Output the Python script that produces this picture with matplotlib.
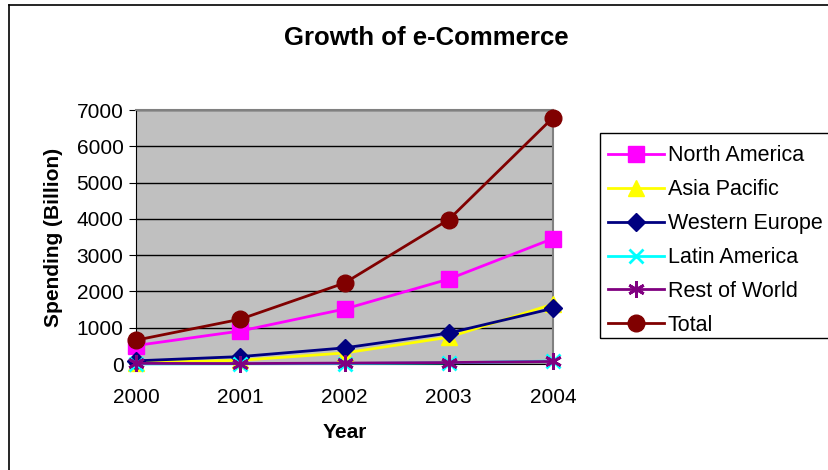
import matplotlib
matplotlib.use("Agg")
import matplotlib.pyplot as plt
from matplotlib.lines import Line2D
from matplotlib.patches import Rectangle

plt.rcParams['font.family'] = ['Liberation Sans', 'DejaVu Sans']

years = ['2000', '2001', '2002', '2003', '2004']
north_america = [509, 909, 1514, 2340, 3456]
asia_pacific = [40, 102, 304, 738, 1650]
western_europe = [87, 204, 444, 852, 1533]
latin_america = [3, 7, 13, 31, 82]
rest_of_world = [17, 12, 25, 40, 70]
total = [657, 1234, 2231, 3979, 6790]

series = [
    ("North America", north_america, "#FF00FF", "s", 11),
    ("Asia Pacific", asia_pacific, "#FFFF00", "^", 11),
    ("Western Europe", western_europe, "#000080", "D", 9),
    ("Latin America", latin_america, "#00FFFF", "x", 10),
    ("Rest of World", rest_of_world, "#800080", (6, 2, 0), 12),
    ("Total", total, "#800000", "o", 12),
]

W, H = 829, 470
fig = plt.figure(figsize=(W / 100, H / 100), dpi=100)
ax = fig.add_axes([136 / W, (H - 364) / H, 417 / W, 254 / H])
ax.set_facecolor("#C0C0C0")

x = list(range(len(years)))
for name, vals, color, marker, ms in series:
    ax.plot(x, vals, color=color, lw=2, marker=marker, markersize=ms,
            markeredgewidth=2 if marker in ("x", (6, 2, 0)) else 1,
            markeredgecolor=color, label=name, clip_on=False, zorder=3)

ax.set_xlim(0, 4)
ax.set_ylim(0, 7000)
ax.set_yticks(range(0, 7001, 1000))
ax.set_xticks(x)
ax.set_xticklabels(years)
ax.yaxis.grid(True, color="black", lw=1)
ax.set_axisbelow(True)
for s in ("top", "right"):
    ax.spines[s].set_color("#808080")
    ax.spines[s].set_linewidth(1.5)
for s in ("left", "bottom"):
    ax.spines[s].set_color("black")
ax.tick_params(axis="y", labelsize=15, length=5, direction="out", pad=4)
ax.tick_params(axis="x", labelsize=15, length=0, pad=17)

ax.set_xlabel("Year", fontsize=15, fontweight="bold", labelpad=12)
ax.set_ylabel("Spending (Billion)", fontsize=15, fontweight="bold", labelpad=10)
fig.text(426 / W, 1 - 38 / H, "Growth of e-Commerce", fontsize=18.5,
         fontweight="bold", ha="center", va="center")

# legend entries, with its box drawn separately so it runs off the right edge
leg = fig.legend(loc="upper left", bbox_to_anchor=(604 / W, 1 - 141 / H),
                 fontsize=15.5, frameon=False,
                 handlelength=2.6, handletextpad=0.15, labelspacing=0.6,
                 borderpad=0.2, borderaxespad=0)
fig.add_artist(Rectangle((600 / W, 1 - 338 / H), 240 / W, 205 / H,
                         transform=fig.transFigure, fill=False,
                         edgecolor="black", lw=1))

# outer chart frame
fig.add_artist(Line2D([9 / W, 9 / W], [0, 1 - 5 / H], color="black", lw=1.2,
                      transform=fig.transFigure))
fig.add_artist(Line2D([9 / W, 1], [1 - 5 / H, 1 - 5 / H], color="black", lw=1.2,
                      transform=fig.transFigure))

fig.savefig("out.png", dpi=100)
